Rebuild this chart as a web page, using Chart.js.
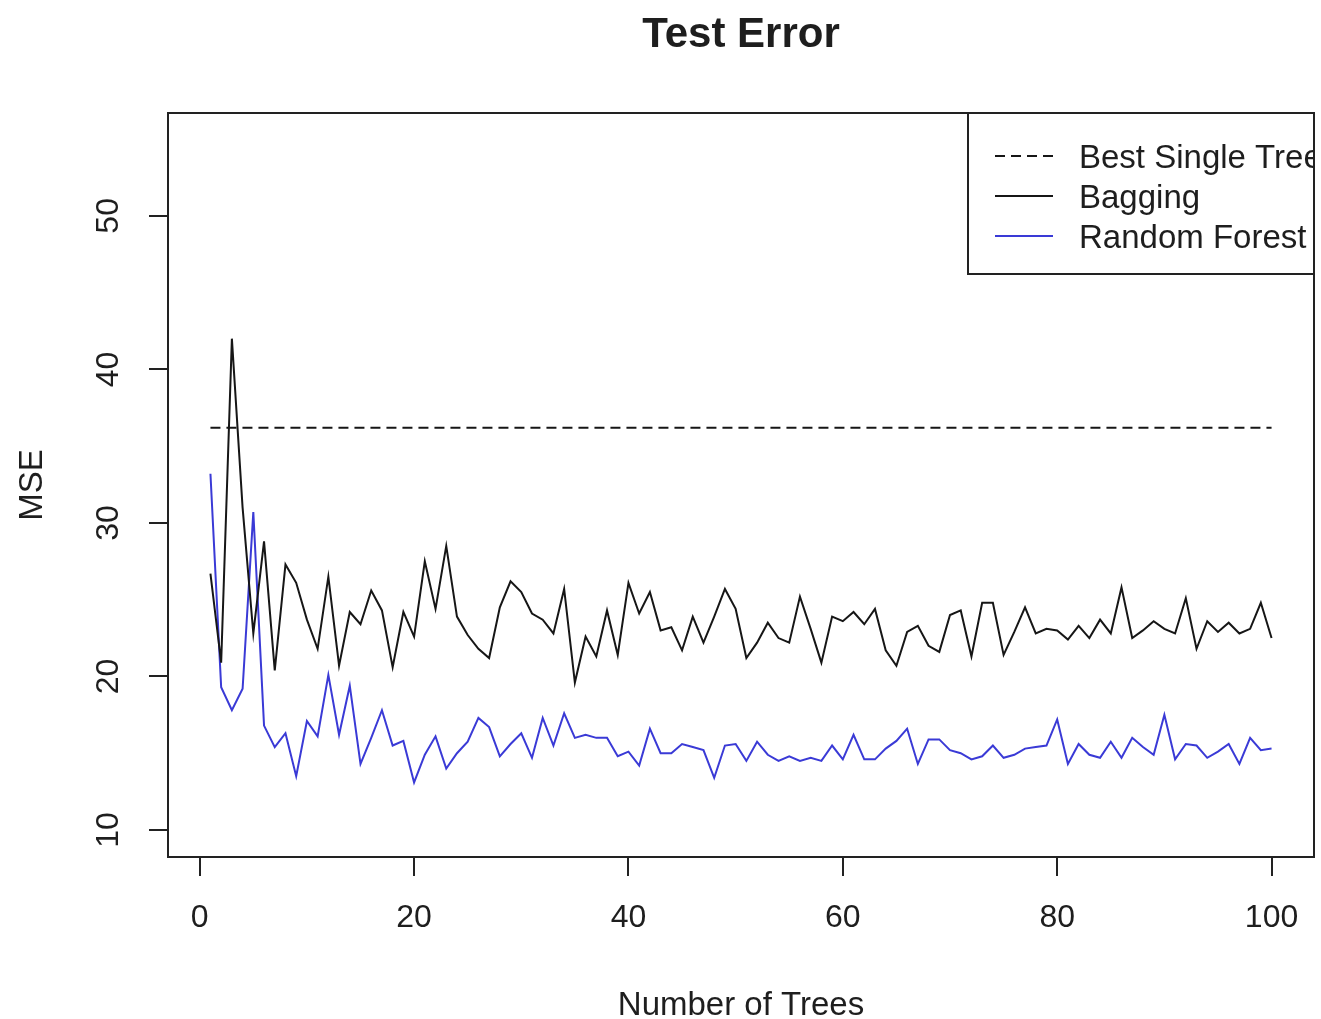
<!DOCTYPE html>
<html><head><meta charset="utf-8">
<script src="https://cdn.jsdelivr.net/npm/chart.js@4.4.1/dist/chart.umd.min.js"></script>
<style>html,body{margin:0;padding:0;background:#fff;}#wrap{width:1321px;height:1019px;}</style>
</head><body><div id="wrap"><canvas id="c" width="1321" height="1019"></canvas></div>
<script>
const trees = [1,2,3,4,5,6,7,8,9,10,11,12,13,14,15,16,17,18,19,20,21,22,23,24,25,26,27,28,29,30,31,32,33,34,35,36,37,38,39,40,41,42,43,44,45,46,47,48,49,50,51,52,53,54,55,56,57,58,59,60,61,62,63,64,65,66,67,68,69,70,71,72,73,74,75,76,77,78,79,80,81,82,83,84,85,86,87,88,89,90,91,92,93,94,95,96,97,98,99,100];
const bagging = [26.7,20.9,42.0,31.0,22.8,28.8,20.4,27.3,26.1,23.7,21.8,26.5,20.7,24.2,23.4,25.6,24.3,20.6,24.2,22.6,27.5,24.4,28.5,23.9,22.7,21.8,21.2,24.5,26.2,25.5,24.1,23.7,22.8,25.7,19.6,22.6,21.3,24.3,21.4,26.1,24.1,25.5,23.0,23.2,21.7,23.9,22.2,23.9,25.7,24.4,21.2,22.2,23.5,22.5,22.2,25.2,23.1,20.9,23.9,23.6,24.2,23.4,24.4,21.7,20.7,22.9,23.3,22.0,21.6,24.0,24.3,21.3,24.8,24.8,21.4,22.9,24.5,22.8,23.1,23.0,22.4,23.3,22.5,23.7,22.8,25.8,22.5,23.0,23.6,23.1,22.8,25.1,21.8,23.6,22.9,23.5,22.8,23.1,24.8,22.5];
const randomForest = [33.2,19.3,17.8,19.2,30.7,16.8,15.4,16.3,13.5,17.1,16.1,20.1,16.2,19.4,14.3,16.0,17.8,15.5,15.8,13.1,14.9,16.1,14.0,15.0,15.75,17.3,16.7,14.8,15.6,16.3,14.7,17.3,15.5,17.6,16.0,16.2,16.0,16.0,14.8,15.1,14.2,16.6,15.0,15.0,15.6,15.4,15.2,13.4,15.5,15.6,14.5,15.75,14.9,14.5,14.8,14.5,14.7,14.5,15.5,14.6,16.2,14.6,14.6,15.3,15.8,16.6,14.3,15.9,15.9,15.2,15.0,14.6,14.8,15.5,14.7,14.9,15.3,15.4,15.5,17.2,14.3,15.6,14.9,14.7,15.75,14.7,16.0,15.4,14.9,17.5,14.6,15.6,15.5,14.7,15.1,15.6,14.3,16.0,15.2,15.3];
const bestSingleTree = 36.2;
const xTicks = [0,20,40,60,80,100];
const yTicks = [10,20,30,40,50];
const chartTitle = 'Test Error';
const xTitle = 'Number of Trees';
const yTitle = 'MSE';
const legendLabels = ['Best Single Tree','Bagging','Random Forest'];

const FONT = '"Liberation Sans", Arial, sans-serif';
const TXT = '#1e1e1e';
const BLUE = '#3a3ad6';
const BLACK = '#161616';

const decor = {
  id: 'decor',
  afterDraw(chart) {
    const ctx = chart.ctx, a = chart.chartArea, ys = chart.scales.y;
    ctx.save();
    ctx.fillStyle = TXT;
    // title
    ctx.font = 'bold 42px ' + FONT;
    ctx.textAlign = 'center'; ctx.textBaseline = 'alphabetic';
    ctx.fillText(chartTitle, (a.left + a.right) / 2, 46.5);
    // x title
    ctx.font = '33px ' + FONT;
    ctx.fillText(xTitle, (a.left + a.right) / 2, 1015);
    // y title
    ctx.save();
    ctx.translate(42, (a.top + a.bottom) / 2);
    ctx.rotate(-Math.PI / 2);
    ctx.fillText(yTitle, 0, 0);
    ctx.restore();
    // y tick labels
    ctx.font = '32px ' + FONT;
    ctx.textBaseline = 'middle';
    yTicks.forEach(v => {
      ctx.save();
      ctx.translate(109, ys.getPixelForValue(v));
      ctx.rotate(-Math.PI / 2);
      ctx.fillText(String(v), 0, 0);
      ctx.restore();
    });
    // legend (clipped to plot region)
    ctx.save();
    ctx.beginPath();
    ctx.rect(a.left, a.top, a.right - a.left, a.bottom - a.top);
    ctx.clip();
    const lx = 968, ly = a.top, lw = 420, lh = 274 - a.top;
    ctx.fillStyle = '#fff';
    ctx.fillRect(lx, ly, lw, lh);
    ctx.lineWidth = 2; ctx.strokeStyle = '#222';
    ctx.strokeRect(lx, ly, lw, lh);
    const rows = [156, 196, 236];
    const styles = [{c: BLACK, d: [10, 6]}, {c: BLACK, d: []}, {c: BLUE, d: []}];
    rows.forEach((ry, i) => {
      ctx.beginPath();
      ctx.setLineDash(styles[i].d);
      ctx.strokeStyle = styles[i].c;
      ctx.lineWidth = 2;
      ctx.moveTo(995, ry); ctx.lineTo(1053, ry);
      ctx.stroke();
      ctx.setLineDash([]);
      ctx.fillStyle = TXT;
      ctx.font = '33px ' + FONT;
      ctx.textAlign = 'left'; ctx.textBaseline = 'alphabetic';
      ctx.fillText(legendLabels[i], 1079, ry + 11.5);
    });
    ctx.restore();
    // plot box
    ctx.lineWidth = 2; ctx.strokeStyle = '#222';
    ctx.strokeRect(a.left, a.top, a.right - a.left, a.bottom - a.top);
    ctx.restore();
  }
};

new Chart(document.getElementById('c'), {
  type: 'line',
  data: {
    datasets: [
      {
        label: legendLabels[0],
        data: [{x: trees[0], y: bestSingleTree}, {x: trees[trees.length - 1], y: bestSingleTree}],
        borderColor: BLACK, borderWidth: 2, borderDash: [10, 6], pointRadius: 0, tension: 0
      },
      {
        label: legendLabels[1],
        data: trees.map((t, i) => ({x: t, y: bagging[i]})),
        borderColor: BLACK, borderWidth: 2, pointRadius: 0, tension: 0
      },
      {
        label: legendLabels[2],
        data: trees.map((t, i) => ({x: t, y: randomForest[i]})),
        borderColor: BLUE, borderWidth: 2, pointRadius: 0, tension: 0
      }
    ]
  },
  options: {
    responsive: false,
    animation: false,
    devicePixelRatio: 1,
    layout: {padding: {left: 0, top: 113, right: 7, bottom: 0}},
    plugins: {legend: {display: false}, title: {display: false}, tooltip: {enabled: false}},
    scales: {
      x: {
        type: 'linear', min: -2.96, max: 103.96,
        afterBuildTicks: s => { s.ticks = xTicks.map(v => ({value: v})); },
        afterFit: s => { s.height = 162; s.paddingLeft = 0; s.paddingRight = 0; },
        ticks: {font: {family: FONT, size: 32}, color: TXT, padding: 23, maxRotation: 0, autoSkip: false},
        grid: {drawOnChartArea: false, drawTicks: true, tickLength: 19, color: '#222', lineWidth: 2},
        border: {display: false}
      },
      y: {
        type: 'linear', min: 8.24, max: 56.7,
        afterBuildTicks: s => { s.ticks = yTicks.map(v => ({value: v})); },
        afterFit: s => { s.width = 168; s.paddingTop = 0; s.paddingBottom = 0; },
        ticks: {display: false},
        grid: {drawOnChartArea: false, drawTicks: true, tickLength: 19, color: '#222', lineWidth: 2},
        border: {display: false}
      }
    }
  },
  plugins: [decor]
});
</script>
</body></html>
